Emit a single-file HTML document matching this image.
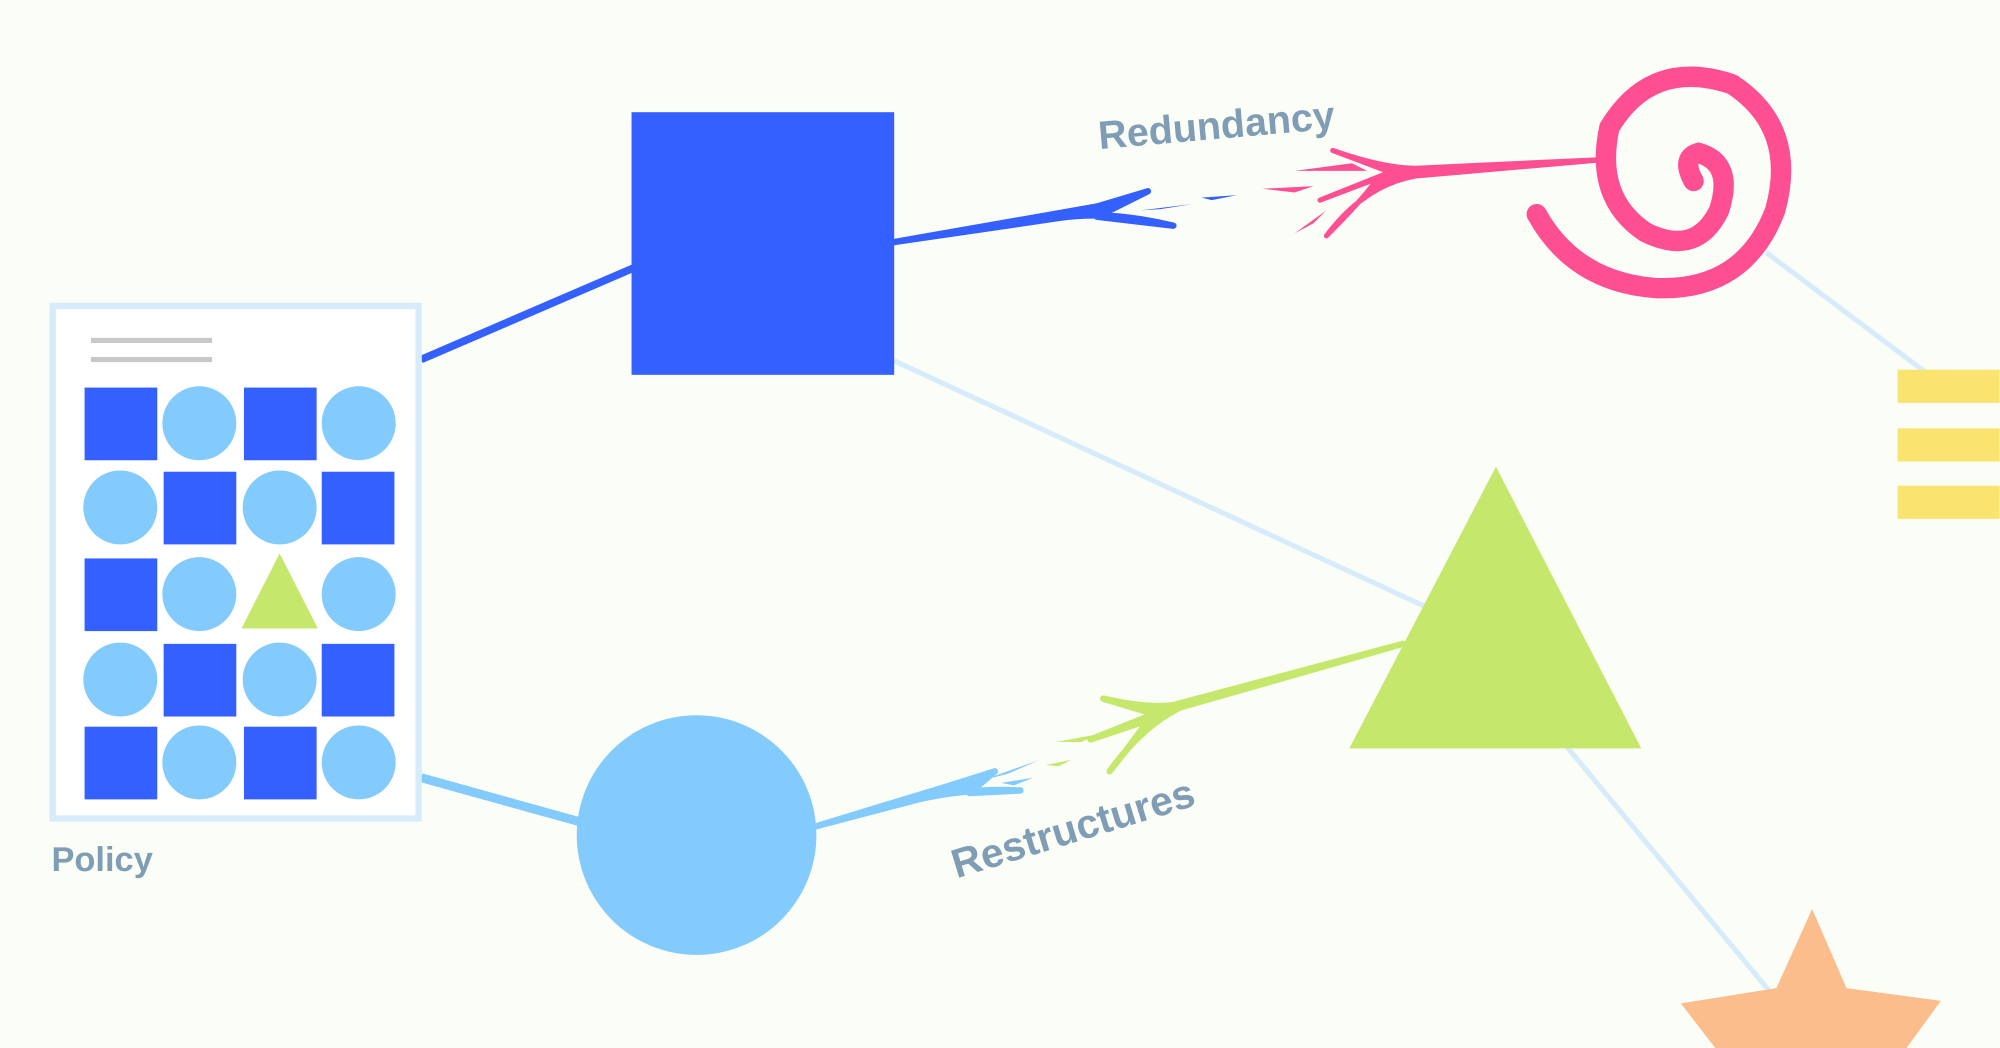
<!DOCTYPE html>
<html><head><meta charset="utf-8"><style>
html,body{margin:0;padding:0;background:#fbfdf7;}
svg{display:block}
text{text-rendering:geometricPrecision}
</style></head><body>
<svg width="2000" height="1048" viewBox="0 0 1568 822" xmlns="http://www.w3.org/2000/svg">
<rect width="1568" height="822" fill="#fbfdf7"/>
<line x1="701" y1="283" x2="1118" y2="476" stroke="#d6ecfb" stroke-width="4"/>
<line x1="1385" y1="198" x2="1510" y2="292" stroke="#d6ecfb" stroke-width="4"/>
<line x1="1228" y1="585" x2="1388" y2="778" stroke="#d6ecfb" stroke-width="4"/>
<line x1="330" y1="282" x2="497" y2="210" stroke="#3360ff" stroke-width="6"/>
<line x1="330" y1="610" x2="456" y2="645" stroke="#83cafd" stroke-width="7"/>
<path d="M700 190 L830 171 Q870 165 920 177 L860 170 L900 150 L860 162 Z" fill="#3360ff" stroke="#3360ff" stroke-width="5" stroke-linejoin="round"/>
<polygon points="890,158 940,146 915,152" fill="#3360ff"/>
<polygon points="895,165 935,160 910,164" fill="#3360ff"/>
<polygon points="942,155 970,153 950,157" fill="#3360ff"/>
<polygon points="990,148 1030,146 1015,151" fill="#ff4f93"/>
<polygon points="1015,134 1060,128 1072,134" fill="#ff4f93"/>
<polygon points="1015,183 1040,165 1030,175" fill="#ff4f93"/>
<path d="M1260 125 L1110 138 Q1070 145 1040 185 Q1070 155 1080 140 L1035 157 L1090 135 L1045 118 Q1085 132 1110 132 Z" fill="#ff4f93" stroke="#ff4f93" stroke-width="4" stroke-linejoin="round"/>
<path d="M640 648 L720 627 Q760 618 800 620 L760 622 L780 605 L745 616 Z" fill="#83cafd" stroke="#83cafd" stroke-width="5" stroke-linejoin="round"/>
<polygon points="770,612 815,596 790,607" fill="#83cafd"/>
<polygon points="785,614 810,610 795,616" fill="#83cafd"/>
<polygon points="820,600 840,596 830,601" fill="#c5e86c"/>
<polygon points="828,582 860,576 848,582" fill="#c5e86c"/>
<path d="M1100 505 L925 555 Q895 570 870 605 Q890 580 900 565 L855 580 L905 560 L865 548 Q900 556 920 553 Z" fill="#c5e86c" stroke="#c5e86c" stroke-width="5" stroke-linejoin="round"/>
<rect x="41" y="240" width="287" height="402" fill="#ffffff" stroke="#d6ecfb" stroke-width="5"/>
<rect x="71" y="265" width="95" height="4" fill="#c8c8c8"/>
<rect x="71" y="280" width="95" height="4" fill="#c8c8c8"/>
<g fill="#3360ff">
<rect x="66" y="304" width="57" height="57"/><rect x="191" y="304" width="57" height="57"/>
<rect x="128" y="370" width="57" height="57"/><rect x="252" y="370" width="57" height="57"/>
<rect x="66" y="438" width="57" height="57"/>
<rect x="128" y="505" width="57" height="57"/><rect x="252" y="505" width="57" height="57"/>
<rect x="66" y="570" width="57" height="57"/><rect x="191" y="570" width="57" height="57"/>
</g>
<g fill="#83cafd">
<circle cx="156" cy="332" r="29"/><circle cx="281" cy="332" r="29"/>
<circle cx="94" cy="398" r="29"/><circle cx="219" cy="398" r="29"/>
<circle cx="156" cy="466" r="29"/><circle cx="281" cy="466" r="29"/>
<circle cx="94" cy="533" r="29"/><circle cx="219" cy="533" r="29"/>
<circle cx="156" cy="598" r="29"/><circle cx="281" cy="598" r="29"/>
</g>
<polygon points="219,434 189,493 249,493" fill="#c5e86c"/>
<text x="40" y="683" font-family="Liberation Sans, sans-serif" font-weight="bold" font-size="27" fill="#7f9db5">Policy</text>
<rect x="495" y="88" width="206" height="206" fill="#3360ff"/>
<circle cx="546" cy="655" r="94" fill="#83cafd"/>
<polygon points="1173,366 1058,587 1287,587" fill="#c5e86c"/>
<path d="M1205 168 Q1235 222 1300 226 Q1368 228 1392 165 Q1410 100 1358 66 Q1295 45 1262 100 Q1250 155 1290 182 Q1330 202 1348 165 Q1360 128 1332 120 Q1318 124 1328 142" fill="none" stroke="#ff4f93" stroke-width="16" stroke-linecap="round"/>
<g fill="#fae36f">
<rect x="1488" y="290" width="80" height="26"/>
<rect x="1488" y="336" width="80" height="26"/>
<rect x="1488" y="381" width="80" height="26"/>
</g>
<polygon points="1421,713 1448,775 1522,785 1495,822 1345,822 1318,787 1393,775" fill="#fbbd8c"/>
<text x="862" y="117" transform="rotate(-5 862 117)" font-family="Liberation Sans, sans-serif" font-weight="bold" font-size="31" fill="#7f9db5">Redundancy</text>
<text x="750" y="689" transform="rotate(-17 750 689)" font-family="Liberation Sans, sans-serif" font-weight="bold" font-size="32" fill="#7f9db5">Restructures</text>
</svg>
</body></html>
